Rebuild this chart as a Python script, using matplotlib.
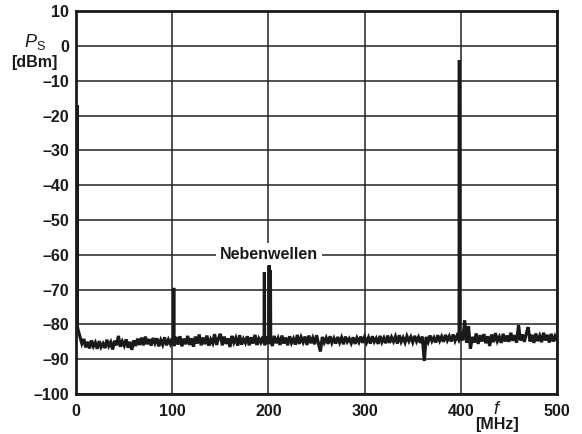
import numpy as np
import matplotlib
matplotlib.use("Agg")
import matplotlib.pyplot as plt

plt.rcParams["font.family"] = ["Liberation Sans", "DejaVu Sans"]
plt.rcParams["mathtext.fontset"] = "custom"
plt.rcParams["mathtext.it"] = "Liberation Sans:italic"
plt.rcParams["mathtext.rm"] = "Liberation Sans"

# ---------------------------------------------------------
# Data
# ---------------------------------------------------------
# noise floor sampled every 2 MHz, 0 ... 500 MHz
floor_step = 2
floor_dbm = [
    # 0 - 48
    -79, -81.5, -83.5, -85.5, -84.2, -86.6, -85.0, -86.9, -84.6, -86.3,
    -85.2, -87.0, -84.8, -86.5, -85.5, -86.8, -84.4, -86.2, -85.1, -87.2,
    -84.7, -86.0, -83.3, -86.4, -84.9,
    # 50 - 98
    -86.1, -84.3, -86.7, -85.0, -87.3, -84.6, -86.2, -84.1, -85.9, -83.8,
    -86.0, -83.5, -85.7, -84.2, -86.1, -83.9, -85.4, -84.0, -86.3, -84.5,
    -85.8, -83.7, -86.0, -84.4, -85.6,
    # 100 - 148
    -84.0, -86.2, -83.6, -85.8, -83.4, -86.3, -84.1, -85.7, -83.3, -85.9,
    -84.0, -86.4, -83.5, -85.5, -82.9, -86.0, -83.8, -85.7, -83.2, -86.1,
    -84.3, -85.4, -82.8, -85.9, -84.0,
    # 150 - 198
    -82.7, -86.0, -83.5, -85.6, -84.0, -86.5, -83.3, -85.2, -83.9, -86.1,
    -83.1, -85.8, -84.2, -85.3, -83.4, -86.0, -83.7, -85.5, -83.0, -85.9,
    -84.1, -85.2, -83.6, -86.0, -83.5,
    # 200 - 248
    -85.6, -83.9, -86.2, -83.3, -85.4, -84.0, -85.9, -83.2, -85.5, -83.8,
    -86.0, -83.4, -85.3, -84.1, -85.8, -83.0, -85.6, -83.7, -85.1, -83.5,
    -85.9, -83.2, -85.4, -83.9, -85.7,
    # 250 - 298
    -83.1, -85.5, -87.8, -83.6, -85.2, -83.9, -85.6, -83.4, -85.3, -84.0,
    -85.5, -83.6, -85.2, -83.8, -85.7, -83.5, -85.0, -84.1, -85.4, -83.7,
    -85.6, -83.9, -85.1, -83.5, -85.3,
    # 300 - 348
    -83.6, -85.2, -83.8, -85.5, -83.4, -85.0, -84.0, -85.6, -83.3, -85.1,
    -83.9, -85.4, -83.2, -85.3, -83.7, -84.9, -83.5, -85.5, -83.1, -85.0,
    -83.8, -85.2, -83.4, -84.8, -83.6,
    # 350 - 398
    -85.1, -83.3, -84.9, -83.7, -85.3, -83.5, -90.5, -83.6, -85.0, -83.2,
    -84.8, -83.8, -85.2, -83.1, -84.7, -83.5, -85.0, -83.0, -84.6, -83.4,
    -84.9, -82.9, -84.7, -83.3, -84.5,
    # 400 - 448
    -83.0, -84.6, -78.8, -85.3, -80.5, -87.0, -83.6, -85.2, -82.6, -85.6,
    -83.1, -84.9, -82.8, -85.4, -83.4, -86.2, -82.9, -85.1, -82.5, -84.8,
    -83.6, -85.3, -82.7, -84.9, -83.2,
    # 450 - 500
    -85.0, -82.4, -84.7, -83.1, -85.2, -80.2, -84.6, -82.9, -85.0, -82.7,
    -80.8, -84.9, -83.0, -85.3, -82.6, -84.8, -83.3, -85.1, -82.4, -84.6,
    -83.0, -85.2, -82.7, -84.9, -83.4, -84.6,
]

# carrier and spurious lines
spike_mhz = [1.0, 101.5, 195.8, 200.8, 202.0, 398.5]
spike_dbm = [-17, -69.5, -65, -63, -64.5, -4]

x_ticks = [0, 100, 200, 300, 400, 500]
y_ticks = list(range(-100, 11, 10))
x_tick_labels = ["0", "100", "200", "300", "400", "500"]
y_tick_labels = [str(v).replace("-", "\u2013") for v in y_ticks]

label_text = "Nebenwellen"
label_pos = (200.5, -60)

# ---------------------------------------------------------
# Build trace: floor plus narrow spikes
# ---------------------------------------------------------
floor_f = np.arange(len(floor_dbm)) * floor_step
floor_v = np.array(floor_dbm, dtype=float)

half_w = 0.3
pts = list(zip(floor_f, floor_v))
for f, lvl in zip(spike_mhz, spike_dbm):
    base_l = np.interp(f - half_w, floor_f, floor_v)
    base_r = np.interp(f + half_w, floor_f, floor_v)
    pts += [(f - half_w, base_l), (f, lvl), (f + half_w, base_r)]
pts.sort(key=lambda p: p[0])
trace_f = np.array([p[0] for p in pts])
trace_v = np.array([p[1] for p in pts])

# ---------------------------------------------------------
# Plot
# ---------------------------------------------------------
W, H = 582, 434
fig = plt.figure(figsize=(W / 100, H / 100), dpi=100)
ax = fig.add_axes([76.1 / W, 1 - 394 / H, 480.9 / W, 382.7 / H])

ax.plot(trace_f, trace_v, color="#1a1a1a", lw=2.3, solid_joinstyle="miter", zorder=3)

ax.set_xlim(0, 500)
ax.set_ylim(-100, 10)
ax.set_xticks(x_ticks)
ax.set_xticklabels(x_tick_labels)
ax.set_yticks(y_ticks)
ax.set_yticklabels(y_tick_labels)
ax.tick_params(length=0, labelsize=11.5)
ax.tick_params(axis="y", pad=5)
ax.tick_params(axis="x", pad=7)
for lbl in ax.get_xticklabels() + ax.get_yticklabels():
    lbl.set_fontweight("bold")
    lbl.set_color("#1a1a1a")

ax.grid(True, color="#222222", lw=1.1)
ax.set_axisbelow(True)
for s in ax.spines.values():
    s.set_linewidth(2.0)
    s.set_color("#1a1a1a")

ax.text(label_pos[0], label_pos[1], label_text, ha="center", va="center",
        fontsize=11.5, fontweight="bold", color="#1a1a1a", zorder=2,
        bbox=dict(facecolor="white", edgecolor="none", pad=3))

# axis captions
fig.text(35 / W, 1 - 42 / H, r"$P_{\mathrm{S}}$", ha="center", va="center",
         fontsize=13, color="#1a1a1a")
fig.text(34 / W, 1 - 62 / H, "[dBm]", ha="center", va="center",
         fontsize=11.5, fontweight="bold", color="#1a1a1a")
fig.text(497 / W, 1 - 409 / H, r"$f$", ha="center", va="center",
         fontsize=13, color="#1a1a1a")
fig.text(497 / W, 1 - 424 / H, "[MHz]", ha="center", va="center",
         fontsize=11.5, fontweight="bold", color="#1a1a1a")

fig.savefig("out.png", dpi=100)
